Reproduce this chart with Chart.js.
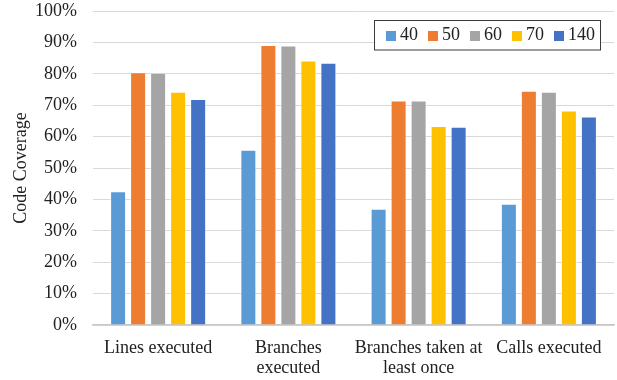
<!DOCTYPE html>
<html>
<head>
<meta charset="utf-8">
<script src="https://cdn.jsdelivr.net/npm/chart.js@4.4.1/dist/chart.umd.min.js"></script>
<style>
  html, body { margin: 0; padding: 0; background: #ffffff; }
  #wrap { width: 617px; height: 380px; }
</style>
</head>
<body>
<div id="wrap"><canvas id="c" width="617" height="380"></canvas></div>
<script>
// Coverage metrics per configuration
const categories = [
  ['Lines executed'],
  ['Branches', 'executed'],
  ['Branches taken at', 'least once'],
  ['Calls executed']
];
const seriesNames = ['40', '50', '60', '70', '140'];
const cov40  = [42.6, 55.8, 37.0, 38.6];
const cov50  = [80.5, 89.2, 71.5, 74.6];
const cov60  = [80.3, 89.0, 71.5, 74.3];
const cov70  = [74.3, 84.2, 63.4, 68.3];
const cov140 = [72.0, 83.5, 63.1, 66.4];
const yTicks = [0, 10, 20, 30, 40, 50, 60, 70, 80, 90, 100];

const seriesValues = [cov40, cov50, cov60, cov70, cov140];
const seriesColors = ['#5B9BD5', '#ED7D31', '#A5A5A5', '#FFC000', '#4472C4'];

const serif = '"Liberation Serif", "Times New Roman", serif';
const textColor = '#222222';

// Boxed legend in the upper-right corner of the plot, built from the datasets
const boxedLegend = {
  id: 'boxedLegend',
  afterDraw(chart) {
    const ctx = chart.ctx;
    const area = chart.chartArea;
    const sets = chart.data.datasets;
    const sq = 10, gapAfterSq = 4, gapAfterText = 10, padL = 11.5, padR = 6.5;
    ctx.save();
    ctx.font = '18px ' + serif;
    let contentW = 0;
    sets.forEach((ds, i) => {
      contentW += sq + gapAfterSq + ctx.measureText(ds.label).width;
      if (i < sets.length - 1) contentW += gapAfterText;
    });
    const boxW = contentW + padL + padR;
    const boxH = 29.5;
    const right = Math.round(area.right - 14.5) + 0.5;
    const left = Math.round(right - boxW) + 0.5;
    const top = Math.round(area.top + 9) + 0.5;
    ctx.fillStyle = '#ffffff';
    ctx.fillRect(left, top, right - left, boxH);
    ctx.strokeStyle = '#3a3a3a';
    ctx.lineWidth = 1;
    ctx.strokeRect(left, top, right - left, boxH);
    const cy = top + boxH / 2 + 0.5;
    let x = left + padL;
    ctx.textBaseline = 'middle';
    ctx.textAlign = 'left';
    sets.forEach(ds => {
      ctx.fillStyle = ds.backgroundColor;
      ctx.fillRect(Math.round(x), Math.round(cy - sq / 2), sq, sq);
      x += sq + gapAfterSq;
      ctx.fillStyle = textColor;
      ctx.fillText(ds.label, x, cy);
      x += ctx.measureText(ds.label).width + gapAfterText;
    });
    ctx.restore();
  }
};

new Chart(document.getElementById('c'), {
  type: 'bar',
  data: {
    labels: categories,
    datasets: seriesNames.map((name, i) => ({
      label: name,
      data: seriesValues[i],
      backgroundColor: seriesColors[i],
      borderColor: 'rgba(255,255,255,0.45)',
      borderWidth: 1,
      categoryPercentage: 0.768,
      barPercentage: 0.8
    }))
  },
  options: {
    responsive: false,
    animation: false,
    devicePixelRatio: 1,
    layout: { padding: { top: 11, right: 3, bottom: 0, left: 4 } },
    plugins: {
      tooltip: { enabled: false },
      legend: { display: false }
    },
    scales: {
      x: {
        afterFit(scale) { scale.height = 55; },
        grid: { display: false, drawTicks: false },
        border: { color: '#C8C8C8', width: 1.5 },
        ticks: {
          color: textColor,
          font: { family: serif, size: 18, lineHeight: 1.12 },
          padding: 13,
          maxRotation: 0,
          autoSkip: false
        }
      },
      y: {
        min: 0,
        max: 100,
        afterBuildTicks(axis) { axis.ticks = yTicks.map(v => ({ value: v })); },
        afterFit(scale) {
          scale.width = 89;
          // labels may overhang the plot edges; the outer padding handles it
          scale.paddingTop = 0;
          scale.paddingBottom = 0;
        },
        grid: { color: '#D9D9D9', lineWidth: 1, drawTicks: false },
        border: { display: false },
        ticks: {
          color: textColor,
          font: { family: serif, size: 18 },
          padding: 16,
          callback: v => v + '%'
        },
        title: {
          display: true,
          text: 'Code Coverage',
          color: textColor,
          font: { family: serif, size: 18 },
          padding: { top: 6, bottom: 3 }
        }
      }
    }
  },
  plugins: [boxedLegend]
});
</script>
</body>
</html>
